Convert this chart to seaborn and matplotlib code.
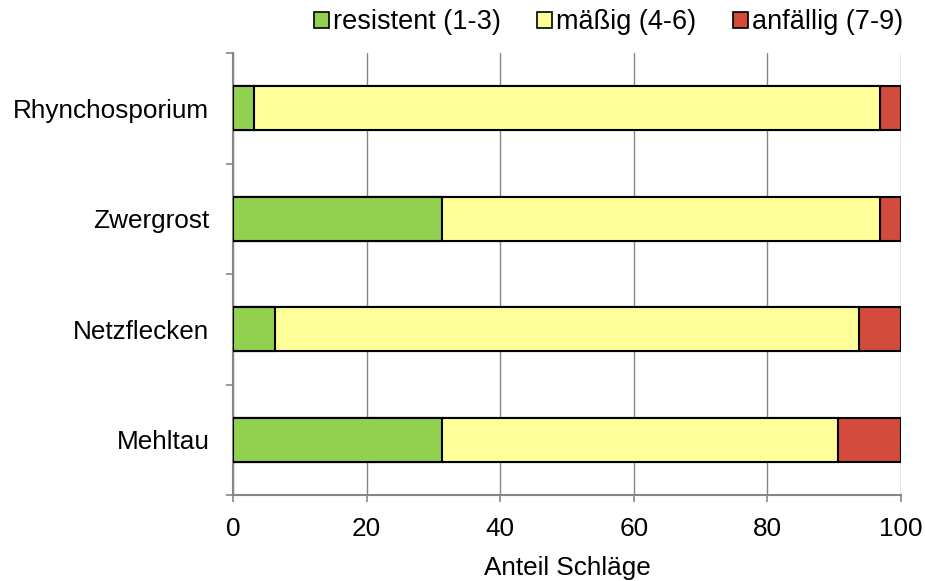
import matplotlib
matplotlib.use("Agg")
import matplotlib.pyplot as plt
from matplotlib.patches import Patch
import numpy as np
import pandas as pd
import seaborn as sns

# Share of plots per resistance class (%), n = 32
diseases = ["Rhynchosporium", "Zwergrost", "Netzflecken", "Mehltau"]
resistent = [3.125, 31.25, 6.25, 31.25]
maessig = [93.75, 65.625, 87.5, 59.375]
anfaellig = [3.125, 3.125, 6.25, 9.375]
class_labels = ["resistent (1-3)", "mäßig (4-6)", "anfällig (7-9)"]
x_ticks = [0, 20, 40, 60, 80, 100]
x_label = "Anteil Schläge"

colors = ["#92D050", "#FFFF99", "#D24B3D"]
FS = 18.8

sns.set_theme(style="white")
plt.rcParams["font.family"] = ["Liberation Sans", "DejaVu Sans"]
plt.rcParams["text.color"] = "black"
plt.rcParams["xtick.labelcolor"] = "black"
plt.rcParams["ytick.labelcolor"] = "black"
plt.rcParams["axes.labelcolor"] = "black"

df = pd.DataFrame({"Krankheit": diseases,
                   "resistent": resistent,
                   "maessig": maessig,
                   "anfaellig": anfaellig})
df["c1"] = df["resistent"]
df["c2"] = df["resistent"] + df["maessig"]
df["c3"] = df["c2"] + df["anfaellig"]

fig = plt.figure(figsize=(9.25, 5.81), dpi=100)
ax = fig.add_axes([233 / 925, 1 - 495 / 581, 668 / 925, 442 / 581])

# Stack by overdrawing cumulative totals, widest first
for col, color in zip(["c3", "c2", "c1"], colors[::-1]):
    sns.barplot(data=df, y="Krankheit", x=col, orient="h", color=color,
                width=0.4, edgecolor="black", linewidth=1.5, saturation=1,
                ax=ax, zorder=3)

ax.set_xlim(0, 100)
ax.set_ylim(3.5, -0.5)
ax.set_xticks(x_ticks)
ax.set_xticklabels([str(t) for t in x_ticks], fontsize=FS)
ax.set_xlabel(x_label, fontsize=FS, labelpad=11)
ax.set_ylabel("")
ax.set_yticks(range(len(diseases)))
ax.set_yticklabels(diseases, fontsize=FS)
ax.set_yticks(np.arange(-0.5, len(diseases), 1.0), minor=True)
ax.tick_params(axis="y", which="major", length=0, pad=17)
ax.tick_params(axis="y", which="minor", length=5, color="#868686", width=1.2,
               direction="out", left=True)
ax.tick_params(axis="x", which="major", length=5, color="#868686", width=1.2,
               direction="out", bottom=True, pad=11)

ax.grid(axis="x", color="#868686", linewidth=1.0, zorder=0)
ax.set_axisbelow(True)
for side in ["top", "right"]:
    ax.spines[side].set_visible(False)
for side in ["left", "bottom"]:
    ax.spines[side].set_color("#868686")
    ax.spines[side].set_linewidth(1.5)

handles = [Patch(facecolor=c, edgecolor="black", linewidth=1.2) for c in colors]
fig.legend(handles, class_labels, loc="upper center", ncol=3,
           bbox_to_anchor=(0.658, 1.026), frameon=False, fontsize=19.5,
           handlelength=0.55, handleheight=0.55, handletextpad=0.15,
           columnspacing=1.35)

fig.savefig("out.png", dpi=100)
